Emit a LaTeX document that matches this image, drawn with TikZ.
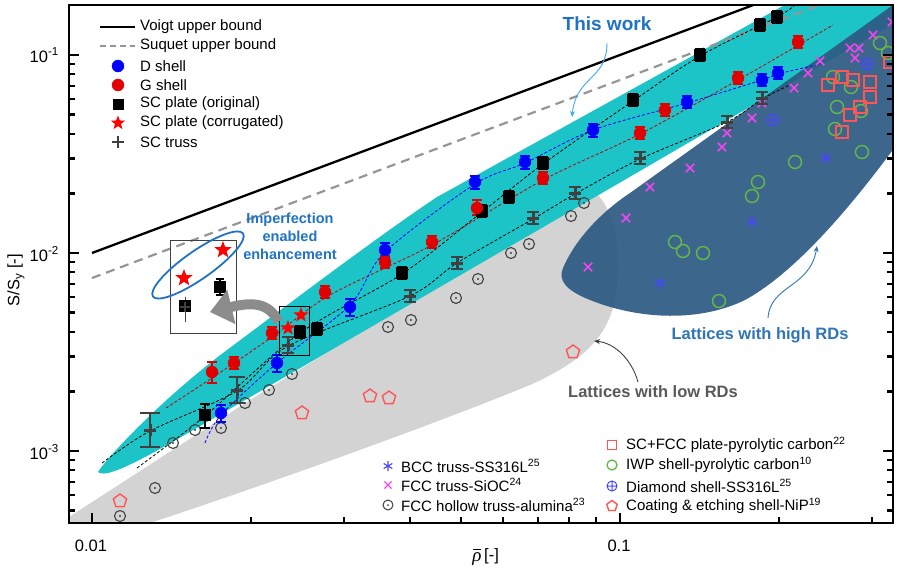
\documentclass[tikz,border=0pt]{standalone}
\usepackage{fontspec}
\setmainfont{Liberation Sans}
\newfontfamily\rhofont{Liberation Serif}
\usetikzlibrary{plotmarks,arrows.meta}
\definecolor{tealc}{RGB}{28,196,200}
\definecolor{bluereg}{RGB}{46,90,132}
\definecolor{grayreg}{RGB}{211,211,211}
\definecolor{annblue}{RGB}{31,114,196}
\definecolor{hiblue}{RGB}{46,117,182}
\definecolor{arrblue}{RGB}{60,170,235}
\definecolor{mag}{RGB}{240,70,240}
\definecolor{grn}{RGB}{100,185,70}
\definecolor{lred}{RGB}{255,85,85}
\definecolor{dred}{RGB}{225,0,0}
\definecolor{dgray}{RGB}{64,64,64}
\definecolor{obl}{RGB}{70,70,255}
\definecolor{sugray}{RGB}{150,150,150}
\definecolor{bigarrow}{RGB}{140,140,140}
\definecolor{lowtext}{RGB}{89,89,89}
\pgfdeclareplotmark{odot}{%
  \pgfpathcircle{\pgfpointorigin}{\pgfplotmarksize}\pgfusepathqstroke
  \pgfpathcircle{\pgfpointorigin}{0.2\pgfplotmarksize}\pgfusepathqfill}
\pgfdeclareplotmark{fstar}{%
  \pgfpathmoveto{\pgfpointpolar{90}{\pgfplotmarksize}}%
  \pgfpathlineto{\pgfpointpolar{126}{0.42\pgfplotmarksize}}%
  \pgfpathlineto{\pgfpointpolar{162}{\pgfplotmarksize}}%
  \pgfpathlineto{\pgfpointpolar{198}{0.42\pgfplotmarksize}}%
  \pgfpathlineto{\pgfpointpolar{234}{\pgfplotmarksize}}%
  \pgfpathlineto{\pgfpointpolar{270}{0.42\pgfplotmarksize}}%
  \pgfpathlineto{\pgfpointpolar{306}{\pgfplotmarksize}}%
  \pgfpathlineto{\pgfpointpolar{342}{0.42\pgfplotmarksize}}%
  \pgfpathlineto{\pgfpointpolar{18}{\pgfplotmarksize}}%
  \pgfpathlineto{\pgfpointpolar{54}{0.42\pgfplotmarksize}}%
  \pgfpathclose\pgfusepathqfill}
\begin{document}
\begin{tikzpicture}[x=1pt,y=-1pt,
  tickmark/.style={line width=2.4pt},
  ebs/.style={line width=1.3pt},
  lbl/.style={font=\fontsize{15}{17}\selectfont, inner sep=0pt},
  axl/.style={font=\fontsize{16.5}{19}\selectfont, inner sep=0pt},
  serdash/.style={line width=0.8pt, dash pattern=on 3pt off 2pt},
]
\useasboundingbox (0,0) rectangle (900,570);

\begin{scope}
\clip (69,5) rectangle (893,523);
% low RD region
\fill[grayreg] (69,523) -- (69,517) -- (250,400) -- (592,190)
  .. controls (615,205) and (622,255) .. (616,295)
  .. controls (608,340) and (580,362) .. (530,385)
  .. controls (420,430) and (250,490) .. (150,523) -- cycle;
% this work band
\fill[tealc] (98,472) .. controls (105,460) and (160,400) .. (227,350)
  .. controls (290,303) and (380,235) .. (437,197) -- (830,-20) -- (920,-20)
  -- (920,8) -- (633,175) -- (240,403)
  .. controls (170,443) and (108,482) .. (98,472) -- cycle;
% high RD region
\fill[bluereg, opacity=0.93] (563,268) .. controls (575,240) and (600,213) .. (630,193)
  -- (900,0) -- (900,140)
  .. controls (860,195) and (800,270) .. (745,300)
  .. controls (700,322) and (640,320) .. (590,300)
  .. controls (565,290) and (558,280) .. (563,268) -- cycle;

% bounds
\draw[line width=2.3pt] (92,253) -- (800,-12.5);
\draw[sugray, line width=2.2pt, dash pattern=on 9pt off 6pt] (92,278) -- (860,-10);

% series lines
\draw[red!75!black, serdash] plot[smooth, tension=0.5] coordinates {(166,408) (212,378) (272,337) (330,295) (432,245) (543,180) (640,134) (738,80) (833,25)};
\draw[blue, serdash] plot[smooth, tension=0.5] coordinates {(205,443) (221,415) (277,363) (350,305) (385,252) (475,184) (525,163) (593,130) (687,103) (762,80) (778,74) (820,64)};
\draw[black, serdash] plot[smooth, tension=0.5] coordinates {(137,468) (205,416) (300,333) (402,274) (482,212) (543,164) (633,101) (700,56) (777,17) (795,5)};
\draw[black, serdash] plot[smooth, tension=0.5] coordinates {(102,463) (150,431) (237,391) (288,346) (410,296) (457,263) (533,219) (575,194) (640,159) (727,122) (762,99) (790,85)};

% literature data
\draw[dgray, line width=1.1pt] plot[only marks, mark=odot, mark size=5.5pt] coordinates {(120,516) (155,488) (173,443) (195,430) (221,428) (245,403) (269,390) (292,374) (388,327) (411,320) (456,298) (478,279) (511,253) (529,244) (571,216) (584,203)};
\draw[lred, line width=1.4pt] plot[only marks, mark=pentagon, mark size=7pt] coordinates {(120,501) (302,413) (370,396) (389,398) (573,352)};
\draw[mag, line width=1.5pt] plot[only marks, mark=x, mark size=6pt] coordinates {(588,267) (626,218) (650,187) (690,168) (722,147) (727,133) (752,118) (762,103) (794,88) (808,73) (820,61) (850,48) (859,48) (855,58) (873,35) (892,22)};
\draw[grn, line width=1.4pt] plot[only marks, mark=o, mark size=6.5pt] coordinates {(675,242) (683,251) (703,253) (719,301) (752,196) (758,182) (795,162) (837,107) (835,129) (862,152) (851,87) (833,77) (861,111) (880,43) (888,53)};
\draw[lred, line width=1.5pt] plot[only marks, mark=square, mark size=6pt] coordinates {(828,85) (842,77) (853,80) (870,82) (870,97) (860,107) (850,115) (842,132) (890,62)};
\draw[obl, line width=1.1pt] plot[only marks, mark=oplus, mark size=6pt] coordinates {(773,120) (867,64)};
\draw[obl, line width=1.2pt] plot[only marks, mark=asterisk, mark size=6pt] coordinates {(826,158) (752,222) (660,283)};

% error bars
\foreach \x/\a/\b in {221/405/422, 277/355/372, 350/299/316, 385/243/258, 475/176/189, 525/156/169, 593/124/137, 687/96/108, 762/74/86, 778/67/79}
  \draw[blue, ebs] (\x,\a) -- (\x,\b) (\x-5,\a) -- (\x+5,\a) (\x-5,\b) -- (\x+5,\b);
\foreach \x/\a/\b in {212/362/383, 234/357/369, 272/327/339, 325/286/298, 385/256/268, 432/236/248, 477/200/215, 543/172/184, 640/127/139, 665/104/116, 738/72/84, 798/36/48}
  \draw[dred, ebs] (\x,\a) -- (\x,\b) (\x-5,\a) -- (\x+5,\a) (\x-5,\b) -- (\x+5,\b);
\foreach \x/\a/\b in {205/404/428, 300/326/338, 317/323/335, 402/267/279, 482/205/217, 509/191/203, 543/157/169, 633/94/106, 700/49/61, 760/19/31, 777/11/23}
  \draw[black, ebs] (\x,\a) -- (\x,\b) (\x-5,\a) -- (\x+5,\a) (\x-5,\b) -- (\x+5,\b);
\foreach \x/\a/\b/\w in {150/413/447/10, 237/377/403/8, 288/337/353/6, 410/290/302/6, 457/257/269/6, 533/212/224/6, 575/187/199/6, 640/152/164/6, 727/116/128/6, 762/92/104/6}
  \draw[dgray, ebs] (\x,\a) -- (\x,\b) (\x-\w,\a) -- (\x+\w,\a) (\x-\w,\b) -- (\x+\w,\b);

% this work data
\draw[dgray, line width=3pt] plot[only marks, mark=+, mark size=6pt] coordinates {(150,430) (237,390) (288,345) (410,296) (457,263) (533,218) (575,193) (640,158) (727,122) (762,98)};
\fill[black] plot[only marks, mark=square*, mark size=5.5pt] coordinates {(205,415) (300,332) (317,329) (402,273) (482,211) (509,197) (543,163) (633,100) (700,55) (760,25) (777,17)};
\fill[blue] plot[only marks, mark=*, mark size=6pt] coordinates {(221,413) (277,363) (350,307) (385,250) (475,182) (525,162) (593,130) (687,102) (762,80) (778,73)};
\fill[dred] plot[only marks, mark=*, mark size=6pt] coordinates {(212,372) (234,363) (272,333) (325,292) (385,262) (432,242) (477,208) (543,178) (640,133) (665,110) (738,78) (798,42)};
\fill[red] plot[only marks, mark=fstar, mark size=8pt] coordinates {(288,328) (301,315)};
\end{scope}

% frame and ticks
\draw[line width=2.5pt] (69,5) rectangle (893,523);
\foreach \y in {55,253,451} {
  \draw[tickmark] (69,\y) -- ++(10,0);
  \draw[tickmark] (893,\y) -- ++(-10,0);}
\foreach \y in {64.1,74.2,85.7,98.9,114.6,133.8,158.5,193.4,262.1,272.2,283.7,296.9,312.6,331.8,356.5,391.4,460.1,470.2,481.7,494.9,510.6} {
  \draw[tickmark] (69,\y) -- ++(6,0);
  \draw[tickmark] (893,\y) -- ++(-6,0);}
\foreach \x in {92,620} \draw[tickmark] (\x,523) -- ++(0,-10);
\foreach \x in {251,344,410,461,503,538,569,596,779,872} \draw[tickmark] (\x,523) -- ++(0,-6);

% axis labels
\node[axl, anchor=east] (ty1) at (59,55) {10\textsuperscript{-1}};
\node[axl, anchor=east] (ty2) at (59,254) {10\textsuperscript{-2}};
\node[axl, anchor=east] (ty3) at (59,452) {10\textsuperscript{-3}};
\node[axl] (tx1) at (91,546) {0.01};
\node[axl] (tx2) at (619,546) {0.1};
\node[axl, rotate=90] (ylab) at (16,280) {S/S\textsubscript{y} [-]};
\node[font=\rhofont\itshape\fontsize{19}{21}\selectfont, inner sep=0pt] (xrho) at (477,559) {ρ};
\draw[line width=0.9pt] ([xshift=-4pt,yshift=3pt]xrho.north) -- ([xshift=4pt,yshift=3pt]xrho.north);
\node[axl, anchor=west] (xunit) at (484,556) {[-]};

% legend 1
\coordinate (l1a) at (100,27); \coordinate (l1b) at (135,27);
\draw[line width=1.8pt] (l1a) -- (l1b);
\coordinate (l2a) at (100,46); \coordinate (l2b) at (135,46);
\draw[sugray, line width=1.8pt, dash pattern=on 6pt off 4pt] (l2a) -- (l2b);
\fill[blue] plot[only marks, mark=*, mark size=6pt] coordinates {(118,66)};
\fill[dred] plot[only marks, mark=*, mark size=6pt] coordinates {(118,85)};
\fill[black] plot[only marks, mark=square*, mark size=5pt] coordinates {(118,104)};
\fill[red] plot[only marks, mark=fstar, mark size=7.5pt] coordinates {(118,123)};
\draw[dgray, line width=2.5pt] plot[only marks, mark=+, mark size=6pt] coordinates {(118,142)};
\node[lbl, anchor=west] (lg1) at (140,27) {Voigt upper bound};
\node[lbl, anchor=west] (lg2) at (140,46) {Suquet upper bound};
\node[lbl, anchor=west] (lg3) at (140,66) {D shell};
\node[lbl, anchor=west] (lg4) at (140,85) {G shell};
\node[lbl, anchor=west] (lg5) at (140,104) {SC plate (original)};
\node[lbl, anchor=west] (lg6) at (140,123) {SC plate (corrugated)};
\node[lbl, anchor=west] (lg7) at (140,142) {SC truss};

% legend 2
\draw[obl, line width=1.1pt] plot[only marks, mark=asterisk, mark size=5pt] coordinates {(388,466)};
\draw[mag, line width=1.2pt] plot[only marks, mark=x, mark size=5pt] coordinates {(388,485)};
\draw[dgray, line width=1pt] plot[only marks, mark=odot, mark size=5pt] coordinates {(388,505)};
\node[lbl, anchor=west] (lb1) at (401,466) {BCC truss-SS316L\textsuperscript{25}};
\node[lbl, anchor=west] (lb2) at (401,485) {FCC truss-SiOC\textsuperscript{24}};
\node[lbl, anchor=west] (lb3) at (401,505) {FCC hollow truss-alumina\textsuperscript{23}};
\draw[lred, line width=1.3pt] plot[only marks, mark=square, mark size=4.5pt] coordinates {(612,445)};
\draw[grn, line width=1.3pt] plot[only marks, mark=o, mark size=5pt] coordinates {(612,465)};
\draw[obl, line width=1pt] plot[only marks, mark=oplus, mark size=5pt] coordinates {(612,486)};
\draw[lred, line width=1.4pt] plot[only marks, mark=pentagon, mark size=5.5pt] coordinates {(612,506)};
\node[lbl, anchor=west] (lc1) at (626,445) {SC+FCC plate-pyrolytic carbon\textsuperscript{22}};
\node[lbl, anchor=west] (lc2) at (626,465) {IWP shell-pyrolytic carbon\textsuperscript{10}};
\node[lbl, anchor=west] (lc3) at (626,486) {Diamond shell-SS316L\textsuperscript{25}};
\node[lbl, anchor=west] (lc4) at (626,506) {Coating \& etching shell-NiP\textsuperscript{19}};

% inset
\node[draw=black!75, line width=0.8pt, minimum width=66pt, minimum height=93pt, inner sep=0pt] (inset) at (203,286.5) {};
\draw[black, ebs] (220,279) -- (220,295) (216,279) -- (224,279) (216,295) -- (224,295);
\draw[dgray, line width=0.8pt] (185,297) -- (185,322);
\fill[black] plot[only marks, mark=square*, mark size=5.5pt] coordinates {(220,287) (185,306)};
\draw[dgray, line width=2pt] plot[only marks, mark=+, mark size=5pt] coordinates {(185,307)};
\fill[red] plot[only marks, mark=fstar, mark size=9pt] coordinates {(184,278) (223,250)};
\draw[annblue, line width=1.8pt, rotate around={35:(198,265)}] (198,265) ellipse [x radius=55pt, y radius=14pt];

% small box and big arrow
\node[draw=black, line width=0.9pt, minimum width=30pt, minimum height=49pt, inner sep=0pt] (sbox) at (294,330.5) {};
\coordinate (arrtip) at (210,312);
\draw[bigarrow, line width=10pt, -{Triangle[length=22pt,width=34pt]}] ([yshift=9pt]sbox.west) .. controls (268,302) and (252,302) .. (arrtip);

% annotations
\node[font=\bfseries\fontsize{14.5}{18}\selectfont, text=annblue, align=center, inner sep=0pt] (imp) at (290,236) {Imperfection\\enabled\\enhancement};
\node[font=\bfseries\fontsize{19}{22}\selectfont, text=annblue, inner sep=0pt] (tw) at (607,24) {This work};
\coordinate (twA) at (607,43); \coordinate (twB) at (572,117);
\draw[arrblue, line width=0.9pt, -{Stealth[length=6pt,width=5pt]}] (twA) .. controls (607,80) and (576,76) .. (twB);
\node[font=\bfseries\fontsize{16.5}{20}\selectfont, text=hiblue, inner sep=0pt] (hi) at (760,335) {Lattices with high RDs};
\coordinate (hiA) at (768,318); \coordinate (hiB) at (817,246);
\draw[hiblue, line width=0.9pt, -{Stealth[length=6pt,width=5pt]}] (hiA) .. controls (770,285) and (810,288) .. (hiB);
\node[font=\bfseries\fontsize{16.5}{20}\selectfont, text=lowtext, inner sep=0pt] (lo) at (653,392) {Lattices with low RDs};
\coordinate (loA) at (638,382); \coordinate (loB) at (594,341);
\draw[dgray, line width=0.9pt, -{Stealth[length=6pt,width=5pt]}] (loA) .. controls (632,360) and (615,343) .. (loB);
\end{tikzpicture}
\end{document}
